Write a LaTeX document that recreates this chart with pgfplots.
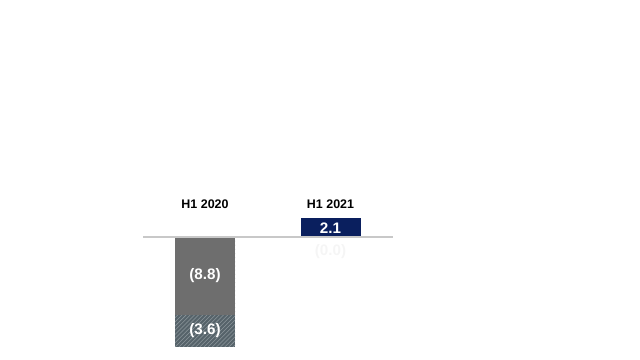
\documentclass[border=0pt]{standalone}
\usepackage{pgfplots}
\pgfplotsset{compat=1.18}
\usetikzlibrary{patterns}
\usepackage{fontspec}
\setmainfont{Liberation Sans}
\definecolor{bargrey}{HTML}{6E6E6E}
\definecolor{hatchbase}{HTML}{56636A}
\definecolor{hatchline}{HTML}{8C969B}
\definecolor{navy}{HTML}{0A1F5E}
\definecolor{basegrey}{HTML}{C8C8C8}
\begin{document}
\begin{tikzpicture}
\begin{axis}[
  scale only axis, width=6.4in, height=3.6in,
  xmin=-1.6335, xmax=3.4661, ymin=-13.88, ymax=26.75,
  hide axis, clip=false,
  ybar, bar width=0.6in, bar shift=0pt,
]
\path (rel axis cs:0,0) rectangle (rel axis cs:1,1);
\addplot[draw=none, fill=hatchbase, postaction={pattern=north east lines, pattern color=hatchline}] coordinates {(0,-12.4)};
\addplot[draw=none, fill=bargrey] coordinates {(0,-8.8)};
\addplot[draw=none, fill=navy] coordinates {(1,2.1)};
\addplot[sharp plot, draw=basegrey, line width=0.8pt, mark=none] coordinates {(-0.494,0) (1.498,0)};
\node[font=\bfseries\fontsize{9}{10}\selectfont] at (axis cs:0,3.7) {H1 2020};
\node[font=\bfseries\fontsize{9}{10}\selectfont] at (axis cs:1,3.7) {H1 2021};
\node[font=\bfseries\fontsize{11}{12}\selectfont, text=white] at (axis cs:0,-4.4) {(8.8)};
\node[font=\bfseries\fontsize{11}{12}\selectfont, text=white] at (axis cs:0,-10.6) {(3.6)};
\node[font=\bfseries\fontsize{11}{12}\selectfont, text=white] at (axis cs:1,1.05) {2.1};
\node[font=\bfseries\fontsize{11}{12}\selectfont, text=black!4] at (axis cs:1,-1.6) {(0.0)};
\end{axis}
\end{tikzpicture}
\end{document}
